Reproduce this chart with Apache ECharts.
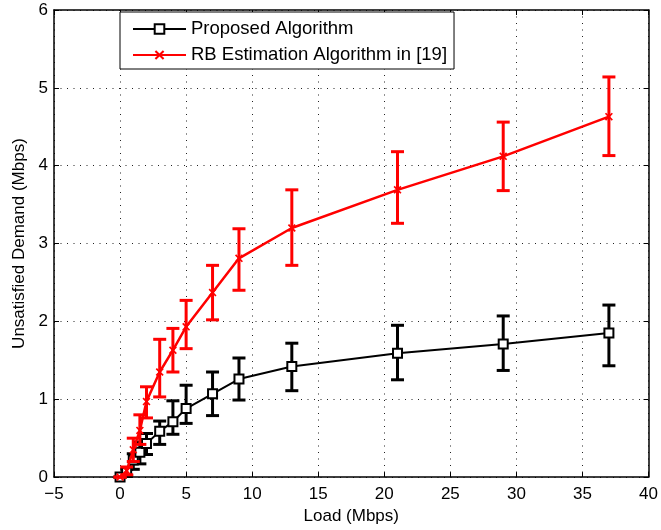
<!DOCTYPE html>
<html>
<head>
<meta charset="utf-8">
<script src="https://cdn.jsdelivr.net/npm/echarts@6/dist/echarts.min.js"></script>
<style>
html,body{margin:0;padding:0;background:#fff;}
#chart{width:661px;height:530px;}
</style>
</head>
<body>
<div id="chart"></div>
<script>
var loads = [0, 0.5, 1, 1.5, 2, 3, 4, 5, 7, 9, 13, 21, 29, 37];
var propMean = [0, 0.06, 0.22, 0.32, 0.43, 0.59, 0.71, 0.88, 1.07, 1.26, 1.42, 1.59, 1.71, 1.85];
var propLow  = [0, 0.02, 0.10, 0.17, 0.29, 0.42, 0.55, 0.69, 0.79, 0.99, 1.11, 1.25, 1.37, 1.43];
var propHigh = [0, 0.10, 0.30, 0.45, 0.56, 0.72, 0.98, 1.18, 1.35, 1.53, 1.72, 1.95, 2.07, 2.21];
var rbMean = [0, 0.08, 0.35, 0.60, 0.97, 1.35, 1.63, 1.93, 2.37, 2.81, 3.20, 3.69, 4.12, 4.63];
var rbLow  = [0, 0.03, 0.20, 0.42, 0.76, 1.03, 1.35, 1.65, 2.02, 2.40, 2.72, 3.26, 3.68, 4.13];
var rbHigh = [0, 0.13, 0.50, 0.80, 1.16, 1.77, 1.91, 2.27, 2.72, 3.19, 3.69, 4.18, 4.56, 5.14];
var xTicks = [-5, 0, 5, 10, 15, 20, 25, 30, 35, 40];
var yTicks = [0, 1, 2, 3, 4, 5, 6];
var seriesNames = ['Proposed Algorithm', 'RB Estimation Algorithm in [19]'];

var FONT = '"Liberation Sans", Arial, sans-serif';
var xSym = 'path://M0,1.5L1.5,0L5,3.5L8.5,0L10,1.5L6.5,5L10,8.5L8.5,10L5,6.5L1.5,10L0,8.5L3.5,5Z';

function pairs(xs, ys){ return xs.map(function(x,i){ return [x, ys[i]]; }); }
function triples(xs, lo, hi){ return xs.map(function(x,i){ return [x, lo[i], hi[i]]; }); }

function errRender(color){
  return function(params, api){
    var x = api.value(0), lo = api.value(1), hi = api.value(2);
    var p1 = api.coord([x, lo]), p2 = api.coord([x, hi]);
    var cw = 6.5;
    var st = {stroke: color, lineWidth: 3};
    return {type:'group', children:[
      {type:'line', shape:{x1:p1[0], y1:p1[1], x2:p2[0], y2:p2[1]}, style:st},
      {type:'line', shape:{x1:p1[0]-cw, y1:p1[1], x2:p1[0]+cw, y2:p1[1]}, style:st},
      {type:'line', shape:{x1:p2[0]-cw, y1:p2[1], x2:p2[0]+cw, y2:p2[1]}, style:st}
    ]};
  };
}

var chart = echarts.init(document.getElementById('chart'));
var axisCommon = {
  axisLine:{show:true, onZero:false, lineStyle:{color:'#000', width:1.5}},
  axisTick:{show:true, inside:true, length:5, lineStyle:{color:'#000', width:1}},
};
var gridLine = {show:true, lineStyle:{type:[1,5.5], color:'#222', width:1}};
chart.setOption({
  animation:false,
  textStyle:{fontFamily:FONT},
  grid:{left:54, right:10, top:10, bottom:52},
  legend:{
    data: seriesNames,
    orient:'vertical', left:120, top:12,
    backgroundColor:'#fff', borderColor:'#000', borderWidth:1,
    padding:[7,7,4,12], itemGap:6, itemWidth:53, itemHeight:12,
    textStyle:{fontFamily:FONT, fontSize:18.5, color:'#000', lineHeight:20}
  },
  xAxis:[
    Object.assign({type:'value', min:-5, max:40, interval:5, position:'bottom',
      name:'Load (Mbps)', nameLocation:'middle', nameGap:19,
      nameTextStyle:{fontSize:17, color:'#000', fontFamily:FONT},
      axisLabel:{fontSize:17, color:'#000', margin:9, fontFamily:FONT,
        formatter:function(v){ return xTicks.indexOf(v) >= 0 ? (v<0?'\u2212'+(-v):String(v)) : ''; }},
      splitLine:gridLine
    }, axisCommon),
    Object.assign({type:'value', min:-5, max:40, interval:5, position:'top',
      axisLabel:{show:false}, splitLine:{show:false}}, axisCommon)
  ],
  yAxis:[
    Object.assign({type:'value', min:0, max:6, interval:1, position:'left',
      name:'Unsatisfied Demand (Mbps)', nameLocation:'middle', nameGap:19,
      nameTextStyle:{fontSize:17, color:'#000', fontFamily:FONT},
      axisLabel:{fontSize:17, color:'#000', margin:6, fontFamily:FONT,
        formatter:function(v){ return yTicks.indexOf(v) >= 0 ? String(v) : ''; }},
      splitLine:gridLine
    }, axisCommon),
    Object.assign({type:'value', min:0, max:6, interval:1, position:'right',
      axisLabel:{show:false}, splitLine:{show:false}}, axisCommon)
  ],
  series:[
    {type:'custom', name:'propErr', renderItem:errRender('#000'), data:triples(loads, propLow, propHigh),
      encode:{x:0, y:[1,2]}, z:2, silent:true},
    {type:'line', name:seriesNames[0], data:pairs(loads, propMean),
      symbol:'rect', symbolSize:9, showSymbol:true,
      lineStyle:{color:'#000', width:2}, itemStyle:{color:'#fff', borderColor:'#000', borderWidth:2}, z:3},
    {type:'custom', name:'rbErr', renderItem:errRender('#f00'), data:triples(loads, rbLow, rbHigh),
      encode:{x:0, y:[1,2]}, z:4, silent:true},
    {type:'line', name:seriesNames[1], data:pairs(loads, rbMean),
      symbol:xSym, symbolSize:8, showSymbol:true,
      lineStyle:{color:'#f00', width:2.5}, itemStyle:{color:'#f00'}, z:5}
  ]
});
</script>
</body>
</html>
